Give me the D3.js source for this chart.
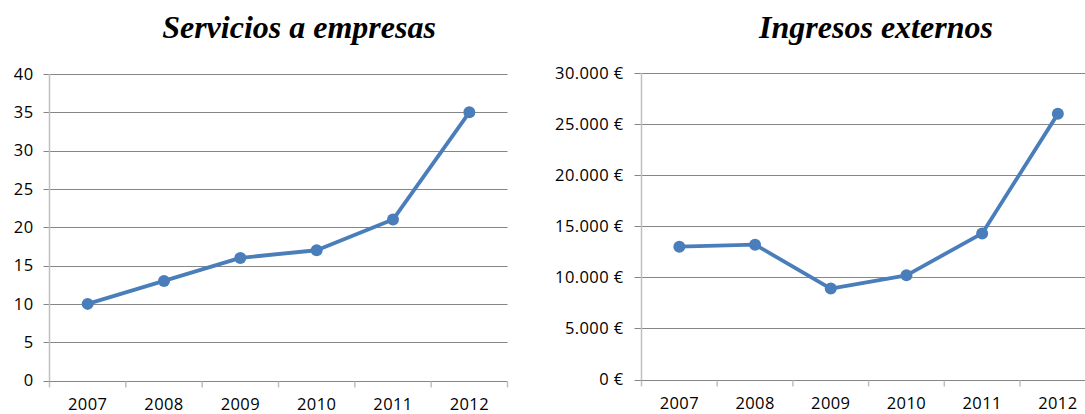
<!DOCTYPE html>
<html>
<head>
<meta charset="utf-8">
<script src="https://cdn.jsdelivr.net/npm/d3@7"></script>
<style>
  html, body { margin: 0; padding: 0; background: #fff; }
  svg { display: block; }
  .title { font-family: "Liberation Serif", "Times New Roman", serif; font-weight: bold; font-style: italic; font-size: 32px; fill: #000; }
  .tick text { font-family: "Open Sans", "Liberation Sans", sans-serif; font-size: 16.5px; fill: #000; letter-spacing: 0.4px; }
</style>
</head>
<body>
<svg id="chart" width="1085" height="414"></svg>
<script>
// Years shared by both panels
const years = ["2007", "2008", "2009", "2010", "2011", "2012"];

// Services delivered to companies per year
const servicios = [10, 13, 16, 17, 21, 35];
const serviciosTicks = [0, 5, 10, 15, 20, 25, 30, 35, 40];

// External income per year, in euros
const ingresos = [13000, 13200, 8900, 10200, 14300, 26000];
const ingresosTicks = [0, 5000, 10000, 15000, 20000, 25000, 30000];

const titles = ["Servicios a empresas", "Ingresos externos"];

const esLocale = d3.formatLocale({
  decimal: ",", thousands: ".", grouping: [3], currency: ["", " €"]
});
const euro = v => esLocale.format("$,.0f")(v);

const svg = d3.select("#chart");
const lineColor = "#4a7ebb";
const gridColor = "#868686";
const axisColor = "#c0c0c0";

function panel(opts) {
  const g = svg.append("g");
  const x = d3.scaleBand().domain(years).range([opts.left, opts.right]);
  const y = d3.scaleLinear().domain([0, opts.max]).range([opts.bottom, opts.top]);

  // horizontal gridlines (the zero line doubles as the category axis)
  g.selectAll("line.grid").data(opts.ticks).join("line")
    .attr("class", "grid")
    .attr("x1", opts.left - opts.tickOut).attr("x2", opts.right)
    .attr("y1", d => Math.round(y(d)) + 0.5).attr("y2", d => Math.round(y(d)) + 0.5)
    .attr("stroke", gridColor).attr("stroke-width", 1);

  // value axis
  const yAxis = d3.axisLeft(y).tickValues(opts.ticks).tickFormat(opts.fmt)
    .tickSize(0).tickPadding(opts.tickOut + opts.labelGap);
  const ya = g.append("g").attr("transform", `translate(${opts.left},0)`).call(yAxis);
  ya.select(".domain").remove();
  g.append("line")
    .attr("x1", opts.left).attr("x2", opts.left)
    .attr("y1", opts.top).attr("y2", opts.bottom + 0.5)
    .attr("stroke", axisColor).attr("stroke-width", 1.5);

  // category tick marks at band boundaries
  const bounds = years.map(d => x(d)).concat([x(years[years.length - 1]) + x.bandwidth()]);
  g.selectAll("line.xt").data(bounds).join("line")
    .attr("x1", d => d).attr("x2", d => d)
    .attr("y1", opts.bottom + 1).attr("y2", opts.bottom + 7)
    .attr("stroke", axisColor).attr("stroke-width", 1.5);

  // category labels
  const xAxis = d3.axisBottom(x).tickSize(0).tickPadding(18);
  const xa = g.append("g").attr("transform", `translate(0,${opts.bottom})`).call(xAxis);
  xa.select(".domain").remove();

  // series line and markers
  const pts = years.map((yr, i) => [x(yr) + x.bandwidth() / 2, y(opts.values[i])]);
  g.append("path")
    .attr("d", d3.line()(pts))
    .attr("fill", "none").attr("stroke", lineColor)
    .attr("stroke-width", 3.8).attr("stroke-linejoin", "round");
  g.selectAll("circle").data(pts).join("circle")
    .attr("cx", d => d[0]).attr("cy", d => d[1]).attr("r", 6)
    .attr("fill", lineColor);

  // title
  g.append("text").attr("class", "title")
    .attr("x", opts.titleX).attr("y", 38).attr("text-anchor", "middle")
    .text(opts.title);
}

panel({
  title: titles[0], titleX: 299,
  values: servicios, ticks: serviciosTicks, max: 40, fmt: d3.format("d"),
  left: 49.5, right: 507.5, top: 74, bottom: 380.5, tickOut: 6, labelGap: 10
});

panel({
  title: titles[1], titleX: 876,
  values: ingresos, ticks: ingresosTicks, max: 30000, fmt: euro,
  left: 641.5, right: 641.5 + 6 * 75.7, top: 73, bottom: 379.5, tickOut: 7, labelGap: 11
});
</script>
</body>
</html>
